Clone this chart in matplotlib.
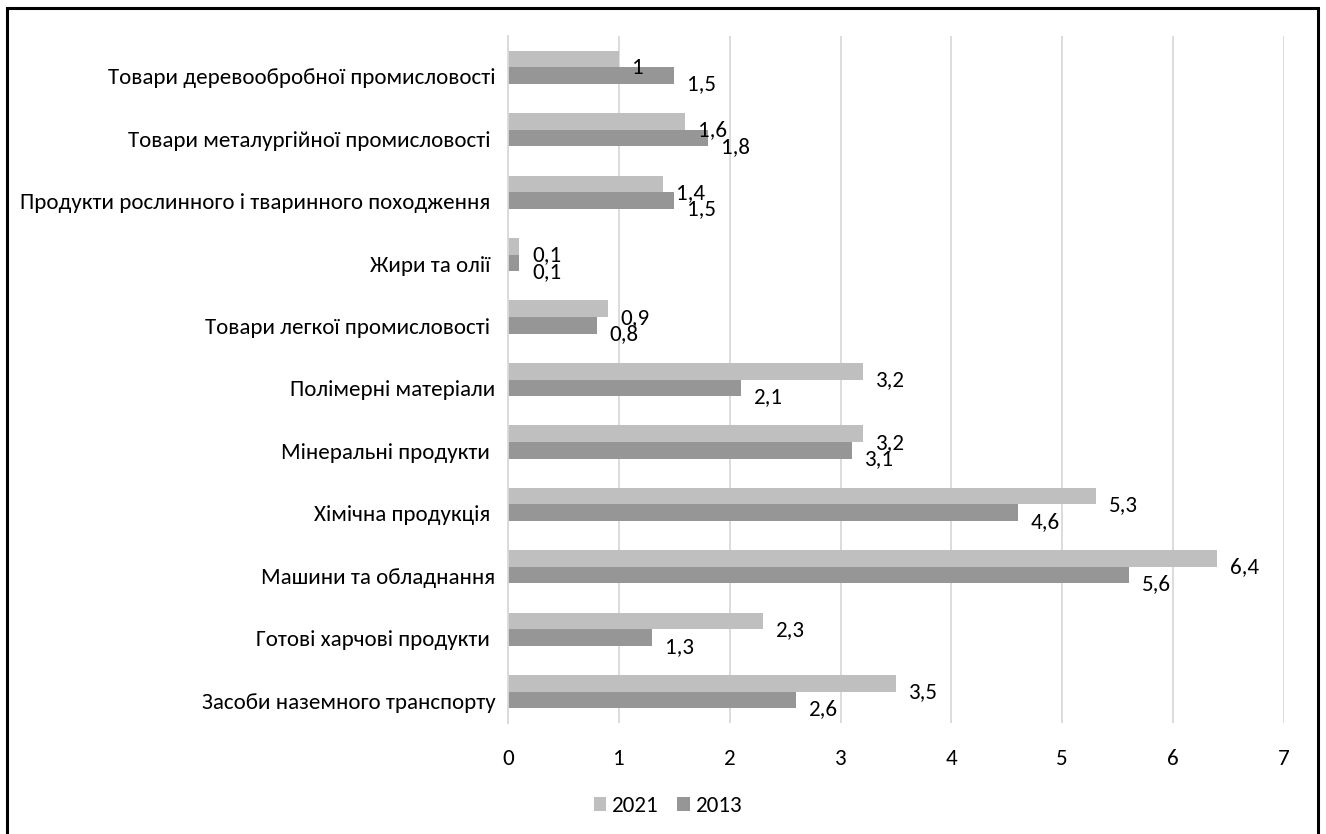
import matplotlib
matplotlib.use('Agg')
import matplotlib.pyplot as plt
import numpy as np
from matplotlib import font_manager
from matplotlib.patches import Patch, Rectangle
from matplotlib.transforms import ScaledTranslation

# шрифт: Carlito якщо є, інакше Open Sans
names = {f.name for f in font_manager.fontManager.ttflist}
main_font = 'Carlito' if 'Carlito' in names else 'Open Sans'
plt.rcParams['font.family'] = [main_font, 'DejaVu Sans']
FS = 16.6 if main_font == 'Carlito' else 14.5

categories = [
    'Товари деревообробної промисловості',
    'Товари металургійної промисловості ',
    'Продукти рослинного і тваринного походження ',
    'Жири та олії ',
    'Товари легкої промисловості ',
    'Полімерні матеріали',
    'Мінеральні продукти ',
    'Хімічна продукція ',
    'Машини та обладнання',
    'Готові харчові продукти ',
    'Засоби наземного транспорту',
]
values_2021 = [1, 1.6, 1.4, 0.1, 0.9, 3.2, 3.2, 5.3, 6.4, 2.3, 3.5]
values_2013 = [1.5, 1.8, 1.5, 0.1, 0.8, 2.1, 3.1, 4.6, 5.6, 1.3, 2.6]
xticks = [0, 1, 2, 3, 4, 5, 6, 7]

c2021 = '#BFBFBF'
c2013 = '#969696'

fig = plt.figure(figsize=(13.26, 8.34), dpi=100)
ax = fig.add_axes([508 / 1326, 111 / 834, 776 / 1326, 687 / 834])

y = np.arange(len(categories))
h = 0.266
ax.barh(y - h / 2, values_2021, height=h, color=c2021, zorder=2)
ax.barh(y + h / 2, values_2013, height=h, color=c2013, zorder=2)


def fmt(v):
    return f'{v:g}'.replace('.', ',')


for yy, v in zip(y - h / 2, values_2021):
    ax.annotate(fmt(v), (v, yy), xytext=(13, -9), textcoords='offset pixels',
                ha='left', va='center', fontsize=FS, color='black', zorder=3)
for yy, v in zip(y + h / 2, values_2013):
    ax.annotate(fmt(v), (v, yy), xytext=(13, -9), textcoords='offset pixels',
                ha='left', va='center', fontsize=FS, color='black', zorder=3)

ax.set_xlim(0, 7)
ax.set_ylim(len(categories) - 0.5, -0.5)
ax.set_xticks(xticks)
ax.set_xticklabels([str(t) for t in xticks], fontsize=FS)
ax.set_yticks(y)
ax.set_yticklabels(categories, fontsize=FS)
ax.tick_params(axis='both', length=0)
ax.tick_params(axis='x', pad=19)
ax.tick_params(axis='y', pad=9)

# підписи категорій трохи нижче центру
off = ScaledTranslation(0, -9 / 100, fig.dpi_scale_trans)
for lab in ax.get_yticklabels():
    lab.set_transform(lab.get_transform() + off)

ax.grid(axis='x', color='#D9D9D9', linewidth=1.3, zorder=0)
ax.set_axisbelow(True)
for side in ['top', 'right', 'bottom']:
    ax.spines[side].set_visible(False)
ax.spines['left'].set_color('#D9D9D9')
ax.spines['left'].set_linewidth(1.3)

handles = [Patch(facecolor=c2021, label='2021'), Patch(facecolor=c2013, label='2013')]
fig.legend(handles=handles, loc='center', bbox_to_anchor=(668 / 1326, 1 - 806 / 834),
           ncol=2, frameon=False, fontsize=FS, handlelength=0.55, handleheight=0.55,
           handletextpad=0.25, columnspacing=0.8)

# рамка навколо діаграми
fig.patches.append(Rectangle((7 / 1326, -0.02), 1311 / 1326, 1.02 - 8 / 834,
                             transform=fig.transFigure, fill=False,
                             edgecolor='black', linewidth=2.2))

fig.savefig('out.png', dpi=100)
